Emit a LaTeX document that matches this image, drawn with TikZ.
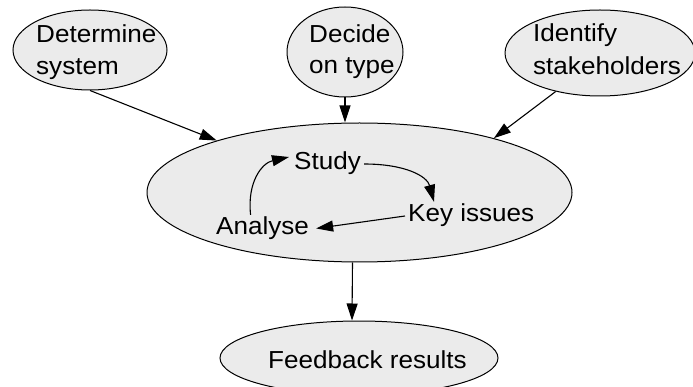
\documentclass[tikz,border=0pt]{standalone}
\usepackage{fontspec}
\setmainfont{Liberation Sans}[FakeStretch=1.06]
\usetikzlibrary{shapes.geometric,arrows.meta}
\definecolor{bubgray}{HTML}{EBEBEB}
\begin{document}
\begin{tikzpicture}[x=1pt,y=-1pt,
  bub/.style={ellipse,draw=black,line width=1pt,fill=bubgray,inner sep=0pt},
  lbl/.style={anchor=base west,inner sep=3pt,text height=17pt,text depth=5pt,
    font=\fontsize{24.6}{32}\selectfont},
  link/.style={draw=black,line width=1.1pt,-{Triangle[length=17pt,width=11pt]}}]
\useasboundingbox (0,0) rectangle (693,387);

% bubbles
\node[bub,minimum width=154pt,minimum height=80pt] (det) at (90,50) {};
\node[bub,minimum width=116pt,minimum height=90pt] (dec) at (345,52) {};
\node[bub,minimum width=190pt,minimum height=86pt] (ide) at (600,53) {};
\node[bub,minimum width=425pt,minimum height=139pt] (main) at (359.5,192.5) {};
\node[bub,minimum width=278pt,minimum height=74pt] (fb) at (359,358) {};

% labels
\node[lbl] (detA) at (33,43) {Determine};
\node[lbl] (detB) at (33,75) {system};
\node[lbl] (decA) at (306,43) {Decide};
\node[lbl] (decB) at (306,74) {on type};
\node[lbl] (ideA) at (530,42) {Identify};
\node[lbl] (ideB) at (530,75) {stakeholders};
\node[lbl] (study) at (291,170) {Study};
\node[lbl] (key) at (405,222) {Key issues};
\node[lbl] (ana) at (213,235) {Analyse};
\node[lbl] (fbt) at (265,368) {Feedback results};

% inputs to the study
\draw[link] (det.south) -- (main.160);
\draw[link] (dec.south) -- (dec.south |- main.north);
\draw[link] (ide.221) -- (main.22);

% cycle inside the study
\draw[link] (study.east) .. controls (405,164) and (427,176) .. ([xshift=29pt]key.north west);
\draw[link,shorten >=4pt] (key.west) -- (ana.east);
\draw[link] ([xshift=-12pt]ana.north) .. controls (247,182) and (262,163) .. ([shift={(-2pt,7pt)}]study.west);

% output
\draw[link] ([xshift=-7pt]main.south) -- ([xshift=-7pt]fb.north);
\end{tikzpicture}
\end{document}
